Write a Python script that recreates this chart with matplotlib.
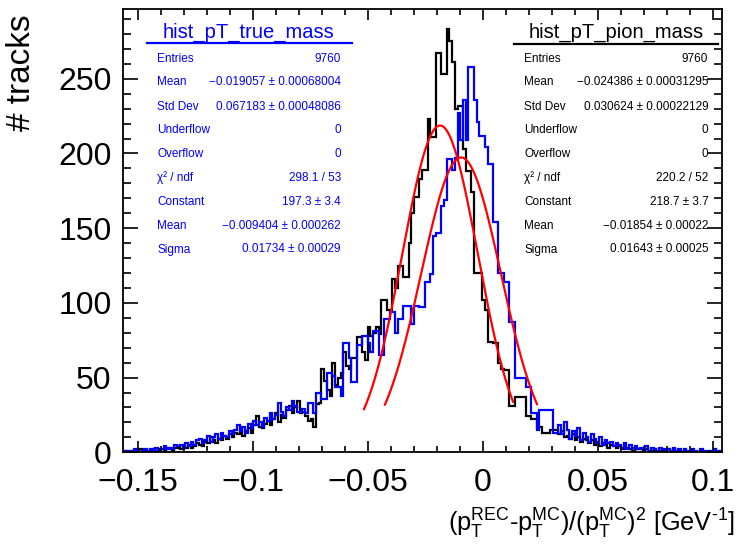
import numpy as np
import matplotlib
matplotlib.use('Agg')
import matplotlib.pyplot as plt
from matplotlib.lines import Line2D
from matplotlib.ticker import MultipleLocator, FuncFormatter

plt.rcParams['font.family'] = ['Liberation Sans', 'DejaVu Sans']
plt.rcParams['mathtext.fontset'] = 'custom'
plt.rcParams['mathtext.rm'] = 'Liberation Sans'
plt.rcParams['mathtext.it'] = 'Liberation Sans:italic'
plt.rcParams['mathtext.sf'] = 'Liberation Sans'
plt.rcParams['axes.unicode_minus'] = True

# ---------------- data ----------------
x_min, x_max = -0.1565, 0.1039
n_bins = 220
y_max = 297

pion_counts = [
    0, 1, 0, 1, 1, 0, 2, 1, 1, 0,
    1, 2, 1, 2, 2, 1, 3, 2, 1, 3,
    3, 2, 4, 3, 5, 3, 4, 6, 5, 4,
    7, 6, 10, 8, 6, 9, 8, 11, 9, 12,
    10, 13, 12, 15, 11, 14, 16, 13, 18, 24,
    17, 16, 19, 21, 18, 22, 26, 20, 25, 23,
    28, 31, 26, 30, 34, 26, 27, 24, 21, 22,
    17, 32, 33, 56, 48, 42, 38, 60, 45, 50,
    53, 67, 58, 56, 63, 63, 77, 77, 67, 62,
    84, 78, 80, 84, 79, 102, 102, 95, 95, 116,
    110, 125, 125, 117, 117, 140, 160, 171, 171, 183,
    189, 189, 223, 211, 211, 267, 267, 253, 253, 283,
    275, 261, 230, 232, 232, 203, 188, 188, 174, 120,
    120, 120, 102, 95, 74, 74, 73, 73, 60, 56,
    55, 55, 31, 31, 37, 37, 37, 37, 24, 24,
    22, 22, 17, 17, 13, 13, 13, 15, 15, 15,
    12, 14, 10, 11, 9, 12, 8, 10, 7, 9,
    8, 6, 8, 5, 7, 4, 6, 5, 3, 5,
    4, 3, 4, 2, 3, 3, 2, 1, 3, 2,
    2, 1, 2, 1, 1, 2, 0, 1, 1, 0,
    2, 1, 0, 1, 1, 0, 1, 0, 0, 1,
    0, 0, 1, 0, 0, 1, 0, 0, 1, 0,
]

true_counts = [
    1, 0, 1, 0, 2, 1, 0, 1, 2, 1,
    2, 1, 3, 1, 2, 4, 2, 3, 2, 5,
    4, 5, 3, 6, 4, 7, 5, 8, 9, 6,
    8, 11, 7, 10, 12, 9, 13, 11, 10, 14,
    12, 15, 18, 14, 17, 13, 19, 16, 21, 18,
    20, 17, 23, 21, 26, 22, 25, 33, 27, 24,
    30, 28, 34, 31, 27, 27, 29, 26, 33, 33,
    26, 40, 40, 36, 36, 53, 53, 51, 44, 44,
    38, 73, 73, 63, 47, 47, 72, 72, 78, 78,
    73, 67, 81, 81, 65, 65, 89, 89, 94, 94,
    80, 89, 89, 98, 98, 98, 86, 98, 98, 97,
    97, 114, 114, 119, 145, 147, 147, 165, 169, 196,
    196, 189, 197, 227, 209, 236, 209, 258, 258, 236,
    221, 212, 212, 204, 193, 193, 154, 154, 120, 120,
    114, 114, 87, 87, 50, 50, 50, 50, 44, 44,
    26, 26, 15, 28, 28, 28, 28, 28, 13, 13,
    18, 12, 20, 15, 9, 14, 11, 16, 8, 13,
    10, 7, 12, 9, 6, 10, 5, 8, 6, 7,
    4, 6, 5, 3, 6, 2, 5, 3, 4, 2,
    3, 2, 4, 1, 3, 2, 1, 3, 2, 1,
    2, 1, 3, 1, 2, 0, 2, 1, 1, 2,
    1, 0, 2, 1, 1, 0, 1, 2, 1, 1,
]

# Gaussian fit parameters (constant, mean, sigma) and fit ranges
true_fit = [197.3, -0.009404, 0.01734]
true_fit_range = [-0.0425, 0.0236]
pion_fit = [218.7, -0.01854, 0.01643]
pion_fit_range = [-0.0516, 0.0132]

stat_labels = ["Entries", "Mean", "Std Dev", "Underflow", "Overflow",
               "\u03c7\u00b2 / ndf", "Constant", "Mean", "Sigma"]
true_stat_values = ["9760", "\u22120.019057 \u00b1 0.00068004",
                    "0.067183 \u00b1 0.00048086", "0", "0", "298.1 / 53",
                    "197.3 \u00b1 3.4", "\u22120.009404 \u00b1 0.000262",
                    "0.01734 \u00b1 0.00029"]
pion_stat_values = ["9760", "\u22120.024386 \u00b1 0.00031295",
                    "0.030624 \u00b1 0.00022129", "0", "0", "220.2 / 52",
                    "218.7 \u00b1 3.7", "\u22120.01854 \u00b1 0.00022",
                    "0.01643 \u00b1 0.00025"]
true_title = "hist_pT_true_mass"
pion_title = "hist_pT_pion_mass"

# ---------------- figure ----------------
W, H = 737, 545
fig = plt.figure(figsize=(W / 100, H / 100), dpi=100)

def fx(px):
    return px / W

def fy(py):
    return 1 - py / H

ax_l, ax_r, ax_t, ax_b = 122.7, 721.7, 8.5, 452.3
ax = fig.add_axes([fx(ax_l), fy(ax_b), (ax_r - ax_l) / W, (ax_b - ax_t) / H])

edges = np.linspace(x_min, x_max, n_bins + 1)
ax.stairs(pion_counts, edges, color='black', lw=1.6, baseline=None)
ax.stairs(true_counts, edges, color='#0000ff', lw=1.6, baseline=None)

def gaus(x, p):
    return p[0] * np.exp(-0.5 * ((x - p[1]) / p[2]) ** 2)

xt = np.linspace(true_fit_range[0], true_fit_range[1], 300)
ax.plot(xt, gaus(xt, true_fit), color='#ff0000', lw=1.6)
xp = np.linspace(pion_fit_range[0], pion_fit_range[1], 300)
ax.plot(xp, gaus(xp, pion_fit), color='#ff0000', lw=1.6)

ax.set_xlim(x_min, x_max)
ax.set_ylim(0, y_max)

def fmt(v, pos):
    v = round(v, 6)
    if v == 0:
        return "0"
    return ("%g" % v).replace("-", "\u2212")

ax.xaxis.set_major_locator(MultipleLocator(0.05))
ax.xaxis.set_minor_locator(MultipleLocator(0.01))
ax.yaxis.set_major_locator(MultipleLocator(50))
ax.yaxis.set_minor_locator(MultipleLocator(10))
ax.xaxis.set_major_formatter(FuncFormatter(fmt))
ax.yaxis.set_major_formatter(FuncFormatter(fmt))

ax.tick_params(axis='both', which='both', direction='in', top=True, right=True,
               width=1.2, colors='black')
ax.tick_params(axis='x', which='major', length=8, pad=11, labelsize=23)
ax.tick_params(axis='x', which='minor', length=4)
ax.tick_params(axis='y', which='major', length=11, pad=8, labelsize=23)
ax.tick_params(axis='y', which='minor', length=5.5)
for s in ax.spines.values():
    s.set_linewidth(1.3)

# axis titles
fig.text(fx(22), fy(73), "# tracks", rotation=90, ha='center', va='center',
         fontsize=24)
fig.text(fx(735), fy(532),
         r'$\mathregular{(p_{T}^{REC}\text{-}p_{T}^{MC})/(p_{T}^{MC})^{2}\ [GeV^{\text{-}1}]}$',
         ha='right', va='baseline', fontsize=18.3)

# stat boxes
rows_y = [57.3, 81, 105.3, 129, 153.3, 176.7, 201, 225, 248.3]

def stat_box(title, values, color, tx, line_x0, line_x1, line_y, lab_x, val_x):
    fig.text(fx(tx), fy(37.5), title, ha='center', va='baseline',
             fontsize=14.5, color=color)
    fig.add_artist(Line2D([fx(line_x0), fx(line_x1)], [fy(line_y), fy(line_y)],
                          transform=fig.transFigure, color=color, lw=1.6))
    for lab, val, ry in zip(stat_labels, values, rows_y):
        fig.text(fx(lab_x), fy(ry + 4.2), lab, ha='left', va='baseline',
                 fontsize=8.5, color=color)
        fig.text(fx(val_x), fy(ry + 4.2), val, ha='right', va='baseline',
                 fontsize=8.5, color=color)

stat_box(true_title, true_stat_values, '#0000ff', 248.5, 147, 352, 43.3, 157.3, 341)
stat_box(pion_title, pion_stat_values, 'black', 616.2, 514, 718, 44.3, 524.3, 708.3)

fig.savefig('out.png', dpi=100)
